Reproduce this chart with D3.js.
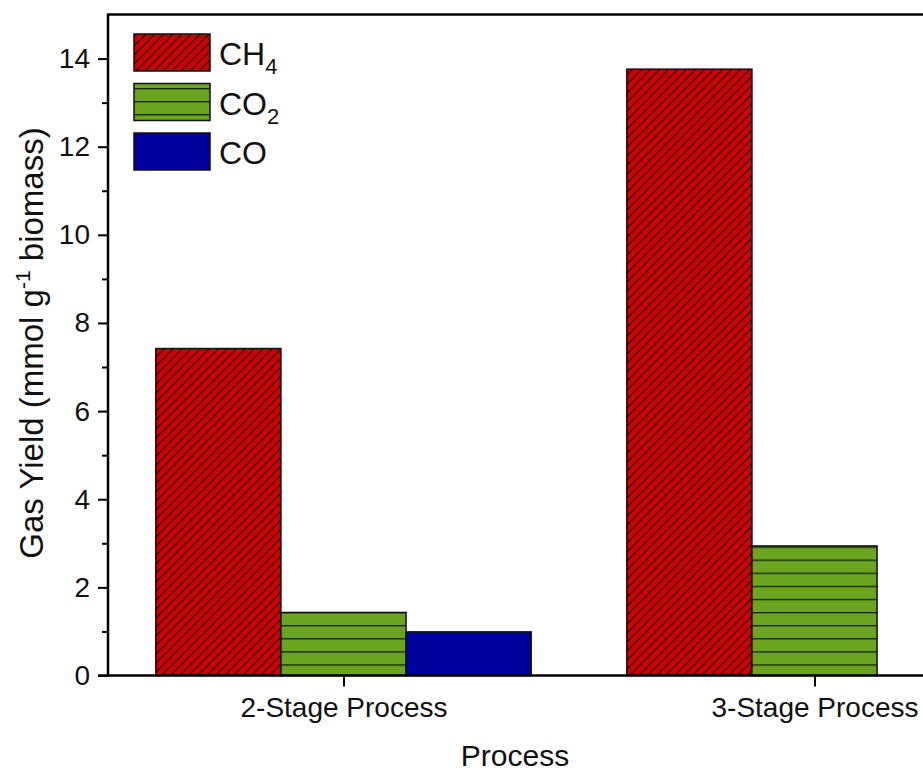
<!DOCTYPE html>
<html>
<head>
<meta charset="utf-8">
<script src="https://cdn.jsdelivr.net/npm/d3@7"></script>
<style>
  html, body { margin: 0; padding: 0; background: #fff; }
  svg { display: block; font-family: "Liberation Sans", Arial, sans-serif; }
</style>
</head>
<body>
<svg id="chart" width="923" height="773"></svg>
<script>
// ---- data ----
const categories = ["2-Stage Process", "3-Stage Process"];
const seriesNames = ["CH4", "CO2", "CO"];
const ch4Values = [7.42, 13.76];
const co2Values = [1.43, 2.94];
const coValues = [0.99, 0];
const yTicks = [0, 2, 4, 6, 8, 10, 12, 14];
const yMinorTicks = [1, 3, 5, 7, 9, 11, 13];

const rows = categories.map((c, i) => ({ cat: c, CH4: ch4Values[i], CO2: co2Values[i], CO: coValues[i] }));

const svg = d3.select("#chart");
const mLeft = 108, mTop = 14.5, mRight = 1050, mBottom = 675.5;

const x = d3.scalePoint().domain(categories).range([mLeft, mRight]).padding(0.5);
const groupW = x.step() * 0.797;
const xs = d3.scaleBand().domain(seriesNames).range([-groupW / 2, groupW / 2]).padding(0);
const y = d3.scaleLinear().domain([0, 15]).range([mBottom, mTop]);

// ---- patterns ----
const defs = svg.append("defs");
const p1 = defs.append("pattern").attr("id", "hatchCH4").attr("patternUnits", "userSpaceOnUse")
  .attr("width", 9).attr("height", 9);
p1.append("rect").attr("width", 9).attr("height", 9).attr("fill", "#CC0000");
p1.append("path").attr("d", "M-1,10 L10,-1 M-3,3 L3,-3 M6,12 L12,6")
  .attr("stroke", "#1a0000").attr("stroke-width", 1.1);

const p2 = defs.append("pattern").attr("id", "hatchCO2").attr("patternUnits", "userSpaceOnUse")
  .attr("width", 20).attr("height", 13.1);
p2.append("rect").attr("width", 20).attr("height", 13.1).attr("fill", "#6BA520");
p2.append("line").attr("x1", 0).attr("x2", 20).attr("y1", 10).attr("y2", 10)
  .attr("stroke", "#102000").attr("stroke-width", 1.3);

const fills = { CH4: "url(#hatchCH4)", CO2: "url(#hatchCO2)", CO: "#00009C" };

// ---- bars ----
const g = svg.append("g");
rows.forEach(r => {
  seriesNames.forEach(s => {
    if (r[s] <= 0) return;
    g.append("rect")
      .attr("x", x(r.cat) + xs(s))
      .attr("y", y(r[s]))
      .attr("width", xs.bandwidth())
      .attr("height", y(0) - y(r[s]))
      .attr("fill", fills[s])
      .attr("stroke", "#111")
      .attr("stroke-width", 1.5);
  });
});

// ---- axes ----
const yAxis = d3.axisLeft(y).tickValues(yTicks).tickSize(10).tickPadding(8).tickFormat(d3.format("d"));
const yg = svg.append("g").attr("transform", `translate(${mLeft},0)`).call(yAxis);
yg.select(".domain").remove();
yg.selectAll(".tick line").attr("stroke", "#000").attr("stroke-width", 2);
yg.selectAll(".tick text").attr("font-size", 28).attr("fill", "#111");

const yMinor = d3.axisLeft(y).tickValues(yMinorTicks).tickSize(6).tickFormat("");
const ymg = svg.append("g").attr("transform", `translate(${mLeft},0)`).call(yMinor);
ymg.select(".domain").remove();
ymg.selectAll(".tick line").attr("stroke", "#000").attr("stroke-width", 2);

const xAxis = d3.axisBottom(x).tickSize(11).tickPadding(11);
const xg = svg.append("g").attr("transform", `translate(0,${mBottom})`).call(xAxis);
xg.select(".domain").remove();
xg.selectAll(".tick line").attr("stroke", "#000").attr("stroke-width", 2);
xg.selectAll(".tick text").attr("font-size", 28).attr("fill", "#111");

// frame lines
svg.append("line").attr("x1", mLeft).attr("x2", 923).attr("y1", mTop).attr("y2", mTop)
  .attr("stroke", "#000").attr("stroke-width", 2.5);
svg.append("line").attr("x1", mLeft - 10).attr("x2", 923).attr("y1", mBottom).attr("y2", mBottom)
  .attr("stroke", "#000").attr("stroke-width", 2.5);
svg.append("line").attr("x1", mLeft).attr("x2", mLeft).attr("y1", mTop - 1).attr("y2", mBottom + 1)
  .attr("stroke", "#000").attr("stroke-width", 2.5);

// ---- axis titles ----
svg.append("text").attr("x", 515).attr("y", 766).attr("text-anchor", "middle")
  .attr("font-size", 30).attr("fill", "#111").text("Process");

const yt = svg.append("text").attr("transform", "translate(43,343) rotate(-90)")
  .attr("text-anchor", "middle").attr("font-size", 33).attr("fill", "#111");
yt.append("tspan").text("Gas Yield (mmol g");
yt.append("tspan").attr("dy", -13).attr("font-size", 21).text("-1");
yt.append("tspan").attr("dy", 13).text(" biomass)");

// ---- legend ----
const legendLabels = { CH4: ["CH", "4"], CO2: ["CO", "2"], CO: ["CO", ""] };
const lg = svg.append("g");
seriesNames.forEach((s, i) => {
  const yy = 34 + i * 49.5;
  lg.append("rect").attr("x", 134).attr("y", yy).attr("width", 76).attr("height", 37)
    .attr("fill", fills[s]).attr("stroke", "#111").attr("stroke-width", 1.5);
  const t = lg.append("text").attr("x", 219).attr("y", yy + 31).attr("font-size", 32).attr("fill", "#111");
  t.append("tspan").text(legendLabels[s][0]);
  if (legendLabels[s][1]) t.append("tspan").attr("dy", 9).attr("font-size", 22).text(legendLabels[s][1]);
});
</script>
</body>
</html>
